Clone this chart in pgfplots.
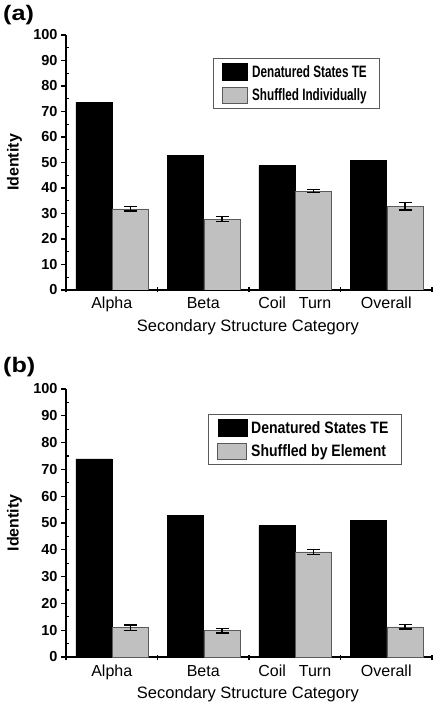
\documentclass[border=0pt]{standalone}
\usepackage{pgfplots}
\pgfplotsset{compat=1.18}
\usepackage{fontspec}
\setmainfont{Liberation Sans}
\newfontfamily\legA{Liberation Sans Bold}[FakeStretch=0.71]
\newfontfamily\legB{Liberation Sans Bold}[FakeStretch=0.85]
\newfontfamily\panelf{Liberation Sans Bold}[FakeStretch=1.2]
\definecolor{barg}{HTML}{C0C0C0}
\definecolor{edgeg}{HTML}{5A5A5A}
\pgfplotsset{
  myaxis/.style={
    scale only axis, width=366pt,
    xmin=0, xmax=4, ymin=0, ymax=100,
    axis x line*=bottom, axis y line*=left,
    axis line style={line width=1.2pt, black},
    tick style={black, line width=1.2pt},
    tick align=outside,
    major tick length=5pt, minor tick length=3pt,
    ytick={0,10,...,100}, minor ytick={5,15,...,95},
    every minor y tick/.append style={xshift=3pt},
    every major x tick/.append style={yshift=2.5pt},
    xtick={0,1,2,3,4}, xticklabels={},
    extra x ticks={0.5,1.5,2.5,3.5},
    extra x tick labels={Alpha,Beta,Coil\hspace{13pt}Turn,Overall},
    extra x tick style={major tick length=0pt},
    xticklabel style={font=\fontsize{16}{16}\selectfont, anchor=base, yshift=-19pt},
    yticklabel style={font=\bfseries\fontsize{14.5}{14.5}\selectfont},
    /pgf/number format/assume math mode=true,
    ylabel={Identity},
    ylabel style={font=\bfseries\fontsize{16}{16}\selectfont, at={(axis description cs:-0.141,0.5)}, anchor=center},
    xlabel={Secondary Structure Category},
    xlabel style={font=\fontsize{16.5}{16.5}\selectfont, anchor=base},
    legend cell align=left,
  },
  blk/.style={ybar, bar width=0.395, bar shift=0pt, fill=black, draw=black, line width=0.6pt,
    legend image code/.code={\draw[fill=black,draw=black] (0pt,-8.5pt) rectangle (25pt,8.5pt);}},
  gry/.style={ybar, bar width=0.395, bar shift=0pt, fill=barg, draw=edgeg, line width=0.8pt,
    error bars/.cd, y dir=both, y explicit,
    error bar style={line width=1.3pt, black},
    error mark options={rotate=90, mark size=6.5pt, line width=1.3pt, black},
    /pgfplots/.cd,
    legend image code/.code={\draw[fill=barg,draw=edgeg,line width=0.8pt] (0pt,-8pt) rectangle (25pt,8pt);}},
}
\begin{document}
\begin{tikzpicture}
\useasboundingbox (0,0) rectangle (434pt,705pt);
\begin{axis}[myaxis, height=255pt, at={(66pt,415pt)}, anchor=south west,
  xlabel style={at={(axis description cs:0.497,-0.161)}},
  legend style={at={(axis description cs:0.4016,0.9098)}, anchor=north west,
    draw=edgeg, line width=0.8pt, inner xsep=9pt, inner ysep=5pt,
    font=\legA\fontsize{16.5}{16.5}\selectfont, row sep=6pt,
    nodes={inner ysep=0pt, inner xsep=4pt}}]
\addplot[blk] coordinates {(0.305,73.7) (1.305,52.7) (2.305,48.8) (3.305,50.7)};
\addlegendentry{Denatured States TE}
\addplot[gry] coordinates {(0.705,31.8) +- (0,0.85) (1.705,27.8) +- (0,0.9) (2.705,38.8) +- (0,0.65) (3.705,32.8) +- (0,1.45)};
\addlegendentry{Shuffled Individually}
\end{axis}
\begin{axis}[myaxis, height=268pt, at={(66pt,48pt)}, anchor=south west,
  xlabel style={at={(axis description cs:0.497,-0.153)}},
  legend style={at={(axis description cs:0.388,0.907)}, anchor=north west,
    draw=edgeg, line width=0.8pt, inner xsep=9pt, inner ysep=5pt,
    font=\legB\fontsize{16.5}{16.5}\selectfont, row sep=6pt,
    nodes={inner ysep=0pt, inner xsep=4pt}},
  blk/.append style={legend image code/.code={\draw[fill=black,draw=black] (0pt,-8.5pt) rectangle (29pt,8.5pt);}},
  gry/.append style={legend image code/.code={\draw[fill=barg,draw=edgeg,line width=0.8pt] (0pt,-8pt) rectangle (29pt,8pt);}}]
\addplot[blk] coordinates {(0.305,73.9) (1.305,52.9) (2.305,49.0) (3.305,50.9)};
\addlegendentry{Denatured States TE}
\addplot[gry] coordinates {(0.705,10.9) +- (0,1.05) (1.705,9.8) +- (0,0.8) (2.705,39.2) +- (0,0.93) (3.705,11.2) +- (0,0.8)};
\addlegendentry{Shuffled by Element}
\end{axis}
\node[anchor=base west, font=\panelf\fontsize{21}{21}\selectfont, inner sep=0pt] at (3pt,684.4pt) {(a)};
\node[anchor=base west, font=\panelf\fontsize{21}{21}\selectfont, inner sep=0pt] at (3pt,332.4pt) {(b)};
\end{tikzpicture}
\end{document}
